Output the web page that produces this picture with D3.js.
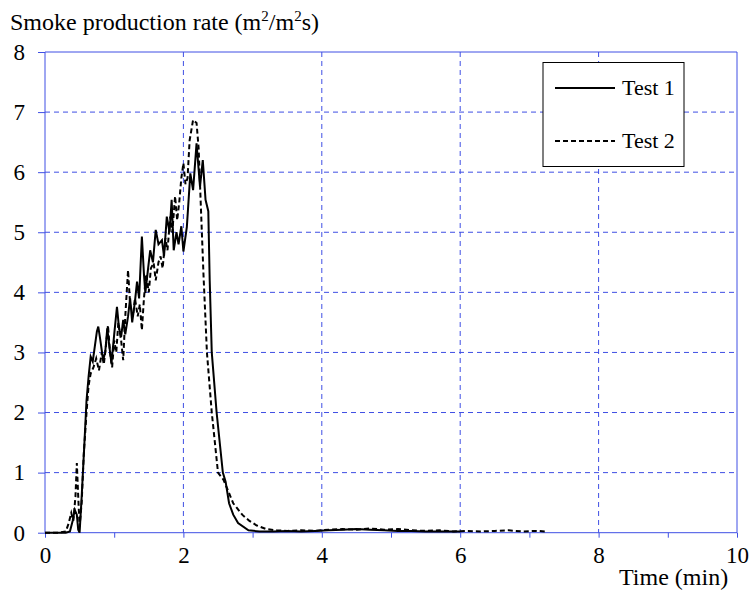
<!DOCTYPE html>
<html>
<head>
<meta charset="utf-8">
<script src="https://cdn.jsdelivr.net/npm/d3@7"></script>
<style>
   body { margin: 0; background: #fff; }
   svg text { font-family: "Liberation Serif", "Times New Roman", serif; fill: #000; }
</style>
</head>
<body>
<svg id="chart" width="751" height="592"></svg>
<script>
// [time (min), smoke production rate]
var test1 = [
   [0, 0], [0.1, 0], [0.2, 0], [0.3, 0], [0.36, 0.02], [0.4, 0.2], [0.43, 0.38],
   [0.46, 0.3], [0.48, 0.05], [0.5, 0], [0.53, 0.6], [0.57, 1.5], [0.6, 2.2],
   [0.63, 2.6], [0.66, 2.93], [0.69, 2.85], [0.72, 3.1], [0.75, 3.35], [0.77, 3.43],
   [0.8, 3.2], [0.84, 2.87], [0.87, 3.0], [0.9, 3.4], [0.93, 3.1], [0.96, 2.82],
   [1.0, 3.3], [1.04, 3.76], [1.07, 3.4], [1.1, 3.26], [1.13, 3.54], [1.16, 3.3],
   [1.2, 3.6], [1.23, 3.9], [1.26, 3.5], [1.3, 3.85], [1.33, 4.18], [1.36, 3.9],
   [1.4, 4.93], [1.43, 4.3], [1.45, 3.99], [1.49, 4.4], [1.52, 4.7], [1.56, 4.5],
   [1.6, 5.04], [1.64, 4.8], [1.69, 4.87], [1.72, 4.6], [1.76, 5.26], [1.8, 5.0],
   [1.83, 5.54], [1.86, 4.7], [1.9, 5.0], [1.93, 4.8], [1.97, 5.1], [2.0, 4.68],
   [2.05, 5.09], [2.1, 5.98], [2.14, 5.7], [2.19, 6.48], [2.24, 5.76], [2.28, 6.2],
   [2.32, 5.54], [2.36, 5.35], [2.38, 4.2], [2.41, 3.0], [2.48, 2.0], [2.57, 1.0],
   [2.61, 0.85], [2.66, 0.49], [2.72, 0.3], [2.79, 0.16], [2.94, 0.04], [3.1, 0.02],
   [3.3, 0.02], [3.5, 0.03], [3.7, 0.02], [3.9, 0.03], [4.1, 0.04], [4.3, 0.05],
   [4.5, 0.06], [4.7, 0.05], [4.9, 0.04], [5.1, 0.03], [5.3, 0.03], [5.5, 0.02],
   [5.7, 0.02], [6.0, 0.02]
];

var test2 = [
   [0, 0], [0.1, 0], [0.2, 0], [0.3, 0.02], [0.34, 0.15], [0.38, 0.33], [0.41, 0.2],
   [0.44, 0.6], [0.46, 1.16], [0.48, 0.6], [0.5, 0.1], [0.53, 0.5], [0.56, 1.3],
   [0.6, 2.0], [0.63, 2.45], [0.66, 2.65], [0.7, 2.75], [0.74, 2.9], [0.78, 2.7],
   [0.82, 3.0], [0.85, 2.8], [0.88, 3.1], [0.91, 3.45], [0.94, 3.0], [0.97, 2.75],
   [1.0, 3.2], [1.03, 3.0], [1.06, 3.5], [1.1, 3.2], [1.13, 2.87], [1.16, 3.6],
   [1.2, 4.37], [1.23, 3.8], [1.27, 3.6], [1.3, 3.9], [1.34, 3.6], [1.37, 3.8],
   [1.4, 3.37], [1.43, 3.9], [1.46, 4.3], [1.5, 4.0], [1.53, 4.4], [1.57, 4.49],
   [1.6, 4.2], [1.64, 4.5], [1.67, 4.6], [1.7, 4.4], [1.74, 4.9], [1.77, 4.7],
   [1.81, 5.26], [1.84, 5.0], [1.88, 5.6], [1.91, 5.2], [1.94, 5.5], [1.97, 5.9],
   [2.0, 6.15], [2.03, 5.8], [2.06, 5.9], [2.09, 6.53], [2.14, 6.87], [2.19, 6.82],
   [2.22, 6.4], [2.25, 5.5], [2.29, 4.3], [2.34, 3.0], [2.41, 2.0], [2.5, 1.0],
   [2.58, 0.88], [2.72, 0.49], [2.85, 0.3], [2.95, 0.2], [3.06, 0.12], [3.2, 0.06],
   [3.35, 0.04], [3.5, 0.03], [3.7, 0.04], [3.9, 0.03], [4.1, 0.05], [4.3, 0.06],
   [4.5, 0.05], [4.7, 0.07], [4.9, 0.05], [5.1, 0.06], [5.3, 0.04], [5.5, 0.03],
   [5.7, 0.04], [5.9, 0.02], [6.1, 0.03], [6.3, 0.02], [6.5, 0.03], [6.7, 0.04],
   [6.9, 0.02], [7.1, 0.03], [7.25, 0.02]
];

var xTicks = [0, 2, 4, 6, 8, 10];
var yTicks = [0, 1, 2, 3, 4, 5, 6, 7, 8];
var seriesNames = ["Test 1", "Test 2"];

var gridColor = "#3f4fe4";
var plotLeft = 45, plotRight = 737, plotTop = 52, plotBottom = 532.7;

var svg = d3.select("svg#chart");

var x = d3.scaleLinear().domain([0, 10]).range([plotLeft, plotRight]);
var y = d3.scaleLinear().domain([0, 8]).range([plotBottom, plotTop]);

// grid lines
svg.append("g")
   .selectAll("line")
   .data(xTicks.filter((d) => d > 0 && d < 10))
   .enter()
   .append("line")
   .attr("x1", (d) => x(d))
   .attr("x2", (d) => x(d))
   .attr("y1", plotTop)
   .attr("y2", plotBottom)
   .attr("stroke", gridColor)
   .attr("stroke-dasharray", "5,4");

svg.append("g")
   .selectAll("line")
   .data(yTicks.filter((d) => d > 0 && d < 8))
   .enter()
   .append("line")
   .attr("x1", plotLeft)
   .attr("x2", plotRight)
   .attr("y1", (d) => y(d))
   .attr("y2", (d) => y(d))
   .attr("stroke", gridColor)
   .attr("stroke-dasharray", "5,4");

// top / right border
svg.append("path")
   .attr("d", "M" + plotLeft + "," + plotTop + "H" + plotRight + "V" + plotBottom)
   .attr("fill", "none")
   .attr("stroke", gridColor);

// axes
var xAxis = svg.append("g")
   .attr("transform", "translate(0," + plotBottom + ")")
   .call(d3.axisBottom(x).ticks(10).tickSize(5).tickFormat((d) => (d % 2 === 0 ? d : "")));
var yAxis = svg.append("g")
   .attr("transform", "translate(" + plotLeft + ",0)")
   .call(d3.axisLeft(y).tickValues(yTicks).tickSize(7).tickPadding(13));

[xAxis, yAxis].forEach(function (a) {
   a.select(".domain").attr("stroke", gridColor);
   a.selectAll(".tick line").attr("stroke", gridColor);
   a.selectAll("text").style("font-size", "23px").attr("fill", "#000");
});
xAxis.selectAll("text").attr("dy", "0.71em").attr("y", 14);
yAxis.select(".domain").attr("d", "M0," + plotTop + "V" + plotBottom);
xAxis.select(".domain").attr("d", "M" + plotLeft + ",0H" + plotRight);

// data lines
var line = d3.line()
   .x((d) => x(d[0]))
   .y((d) => y(d[1]));

svg.append("path")
   .datum(test2)
   .attr("d", line)
   .attr("fill", "none")
   .attr("stroke", "#000")
   .attr("stroke-width", 2)
   .attr("stroke-dasharray", "5,3");

svg.append("path")
   .datum(test1)
   .attr("d", line)
   .attr("fill", "none")
   .attr("stroke", "#000")
   .attr("stroke-width", 2);

// titles
var title = svg.append("text")
   .attr("x", 10)
   .attr("y", 30)
   .style("font-size", "24px");
title.append("tspan").text("Smoke production rate (m");
title.append("tspan").attr("dy", -9).style("font-size", "15px").text("2");
title.append("tspan").attr("dy", 9).text("/m");
title.append("tspan").attr("dy", -9).style("font-size", "15px").text("2");
title.append("tspan").attr("dy", 9).text("s)");

svg.append("text")
   .attr("x", 619)
   .attr("y", 585)
   .style("font-size", "24px")
   .text("Time (min)");

// legend
var legend = svg.append("g");
legend.append("rect")
   .attr("x", 543)
   .attr("y", 62.5)
   .attr("width", 141)
   .attr("height", 104)
   .attr("fill", "#fff")
   .attr("stroke", "#000");

legend.selectAll("g.item")
   .data(seriesNames)
   .enter()
   .append("g")
   .attr("class", "item")
   .attr("transform", (d, i) => "translate(0," + (88 + i * 53) + ")")
   .each(function (d, i) {
      var g = d3.select(this);
      g.append("line")
         .attr("x1", 555)
         .attr("x2", 615)
         .attr("stroke", "#000")
         .attr("stroke-width", 2)
         .attr("stroke-dasharray", i === 1 ? "5,3" : null);
      g.append("text")
         .attr("x", 622)
         .attr("dy", "0.33em")
         .style("font-size", "22px")
         .text(d);
   });
</script>
</body>
</html>
